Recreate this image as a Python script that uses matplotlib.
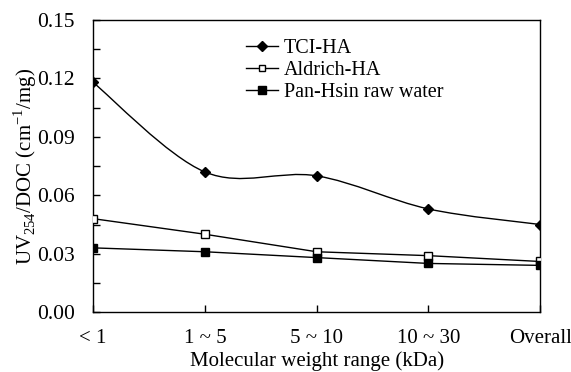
import numpy as np
import matplotlib
matplotlib.use("Agg")
import matplotlib.pyplot as plt
from matplotlib.path import Path
from matplotlib.patches import PathPatch
from matplotlib.lines import Line2D

plt.rcParams["font.family"] = ["Liberation Serif", "DejaVu Serif"]
plt.rcParams["mathtext.fontset"] = "custom"
plt.rcParams["mathtext.rm"] = "Liberation Serif"

categories = ["< 1", "1 ~ 5", "5 ~ 10", "10 ~ 30", "Overall"]
tci_ha = [0.118, 0.072, 0.070, 0.053, 0.045]
aldrich_ha = [0.048, 0.040, 0.031, 0.029, 0.026]
panhsin = [0.033, 0.031, 0.028, 0.025, 0.024]
y_ticks = [0.00, 0.03, 0.06, 0.09, 0.12, 0.15]


""" Excel-style smoothed line: cubic Bezier segments through the points """
def smooth_path(x, y, k=1/6):
    pts = np.column_stack([x, y]).astype(float)
    n = len(pts)
    verts = [pts[0]]
    codes = [Path.MOVETO]
    for i in range(n - 1):
        p0 = pts[i - 1] if i > 0 else pts[i]
        p1, p2 = pts[i], pts[i + 1]
        p3 = pts[i + 2] if i + 2 < n else pts[i + 1]
        verts += [p1 + (p2 - p0) * k, p2 - (p3 - p1) * k, p2]
        codes += [Path.CURVE4] * 3
    return Path(verts, codes)


fig = plt.figure(figsize=(5.71, 3.72), dpi=100)
ax = fig.add_axes([0.163, 0.161, 0.783, 0.785])
x = np.arange(len(categories))

ax.add_patch(PathPatch(smooth_path(x, tci_ha), fill=False, lw=1.0,
                       ec="black", zorder=2))
ax.plot(x, tci_ha, ls="none", marker="D", ms=5.5, color="black", zorder=3)
ax.plot(x, aldrich_ha, "-", color="black", lw=1.0, marker="s", ms=5.5,
        mfc="white", mec="black", mew=1.0, zorder=3)
ax.plot(x, panhsin, "-", color="black", lw=1.0, marker="s", ms=5.5,
        mfc="black", mec="black", zorder=3)

ax.set_xlim(0, 4)
ax.set_ylim(0, 0.15)
ax.set_xticks(x)
ax.set_xticklabels(categories, fontsize=15)
ax.set_yticks(y_ticks)
ax.set_yticklabels([f"{v:.2f}" for v in y_ticks], fontsize=15.5)
ax.set_yticks(np.arange(0.015, 0.15, 0.03), minor=True)
ax.tick_params(axis="both", which="both", direction="in", length=5, width=1)
ax.tick_params(axis="x", pad=12)
ax.tick_params(axis="y", pad=13)
for s in ax.spines.values():
    s.set_linewidth(1.0)

ax.set_xlabel("Molecular weight range (kDa)", fontsize=15)
ax.xaxis.set_label_coords(0.5, -0.133)
ax.set_ylabel("UV$_{\\mathregular{254}}$/DOC (cm$^{\\mathregular{-1}}$/mg)",
              fontsize=15, labelpad=-1)

handles = [
    Line2D([], [], color="black", lw=1.0, marker="D", ms=5),
    Line2D([], [], color="black", lw=1.0, marker="s", ms=5, mfc="white"),
    Line2D([], [], color="black", lw=1.0, marker="s", ms=5.5, mfc="black"),
]
ax.legend(handles, ["TCI-HA", "Aldrich-HA", "Pan-Hsin raw water"],
          loc="upper left", bbox_to_anchor=(0.31, 0.985), frameon=False,
          fontsize=14.5, handlelength=1.6, handletextpad=0.3,
          labelspacing=0.15, borderaxespad=0.3)

fig.savefig("out.png", dpi=100)
